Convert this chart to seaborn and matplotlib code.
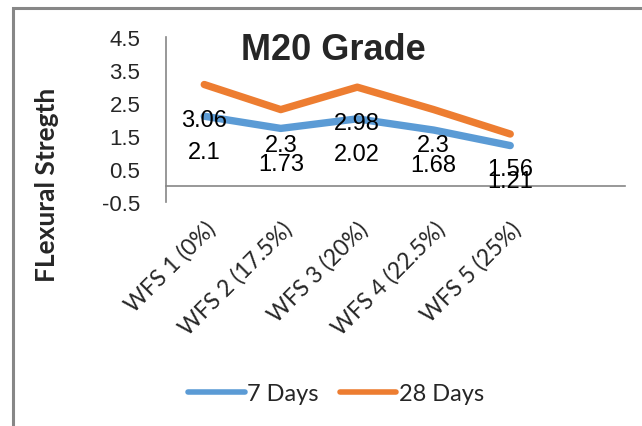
import pandas as pd
import seaborn as sns
import matplotlib.pyplot as plt
from matplotlib.patches import Rectangle

# values
mixes = ["WFS 1 (0%)", "WFS 2 (17.5%)", "WFS 3 (20%)", "WFS 4 (22.5%)", "WFS 5 (25%)"]
days7 = [2.1, 1.73, 2.02, 1.68, 1.21]
days28 = [3.06, 2.3, 2.98, 2.3, 1.56]
series_names = ["7 Days", "28 Days"]
colors = ["#5B9BD5", "#ED7D31"]
yticks = [-0.5, 0.5, 1.5, 2.5, 3.5, 4.5]

#long form table for seaborn
df = pd.DataFrame({
    "Mix": mixes * 2,
    "Strength": days7 + days28,
    "Age": [series_names[0]] * len(mixes) + [series_names[1]] * len(mixes),
})
df["pos"] = list(range(len(mixes))) * 2

sns.set_style("white")
arial = ["Liberation Sans", "DejaVu Sans"]
calib = ["Lato", "DejaVu Sans"]
plt.rcParams["font.family"] = arial

W, H = 642, 427
fig = plt.figure(figsize=(W / 100, H / 100), dpi=100)
ax = fig.add_axes([166 / W, 1 - 203 / H, 459 / W, 165 / H])

sns.lineplot(data=df, x="pos", y="Strength", hue="Age", palette=colors,
             linewidth=5.3, solid_capstyle="round", solid_joinstyle="round",
             sort=False, legend=False, ax=ax)

#data labels under every point
for vals in [days7, days28]:
    for i, v in enumerate(vals):
        ax.annotate(str(v), (i, v), xytext=(0, -25.5), textcoords="offset points",
                    ha="center", va="center", fontsize=17, color="black", zorder=5)

ax.set_xlim(-0.5, len(mixes) + 0.5)
ax.set_ylim(-0.5, 4.5)
ax.set_yticks(yticks)
ax.set_yticklabels([str(t) for t in yticks])
ax.tick_params(axis="y", length=6.5, width=1, color="#868686", pad=12, labelsize=16)

#x axis line crosses at 0, tick marks between the categories
ax.spines["bottom"].set_position(("data", 0))
ax.set_xticks([b - 0.5 for b in range(len(mixes) + 2)])
ax.tick_params(axis="x", length=5.5, width=1, color="#868686", labelbottom=False)
for s in ["top", "right"]:
    ax.spines[s].set_visible(False)
for s in ["left", "bottom"]:
    ax.spines[s].set_color("#868686")
    ax.spines[s].set_linewidth(1.2)
ax.set_xlabel("")
ax.set_ylabel("")

#category labels sit under the plot area
sec = ax.secondary_xaxis("bottom")
sec.set_xticks(range(len(mixes)))
sec.set_xticklabels(mixes, rotation=45, ha="right", va="top", rotation_mode="anchor",
                    fontsize=16.5, family=calib)
sec.tick_params(length=0, pad=11)
sec.spines["bottom"].set_visible(False)

fig.text(333 / W, 1 - 50 / H, "M20 Grade", ha="center", va="center",
         fontsize=26, fontweight="bold")
fig.text(47 / W, 1 - 185 / H, "FLexural Stregth", rotation=90, ha="center", va="center",
         fontsize=19, fontweight="bold", family=calib)

handles = [plt.Line2D([], [], color=c, linewidth=4, solid_capstyle="round") for c in colors]
fig.legend(handles, series_names, loc="center", bbox_to_anchor=(336 / W, 1 - 395 / H),
           ncol=2, frameon=False, handlelength=2.4, handletextpad=0.1, columnspacing=0.9,
           prop={"family": calib, "size": 17})

#chart frame (only left and top edges show in the reference)
fig.patches.append(Rectangle((13 / W, -0.1), 1.2, 1 - 9 / H + 0.1, transform=fig.transFigure,
                             fill=False, edgecolor="#878787", linewidth=2.2))

fig.savefig("out.png", dpi=100)
